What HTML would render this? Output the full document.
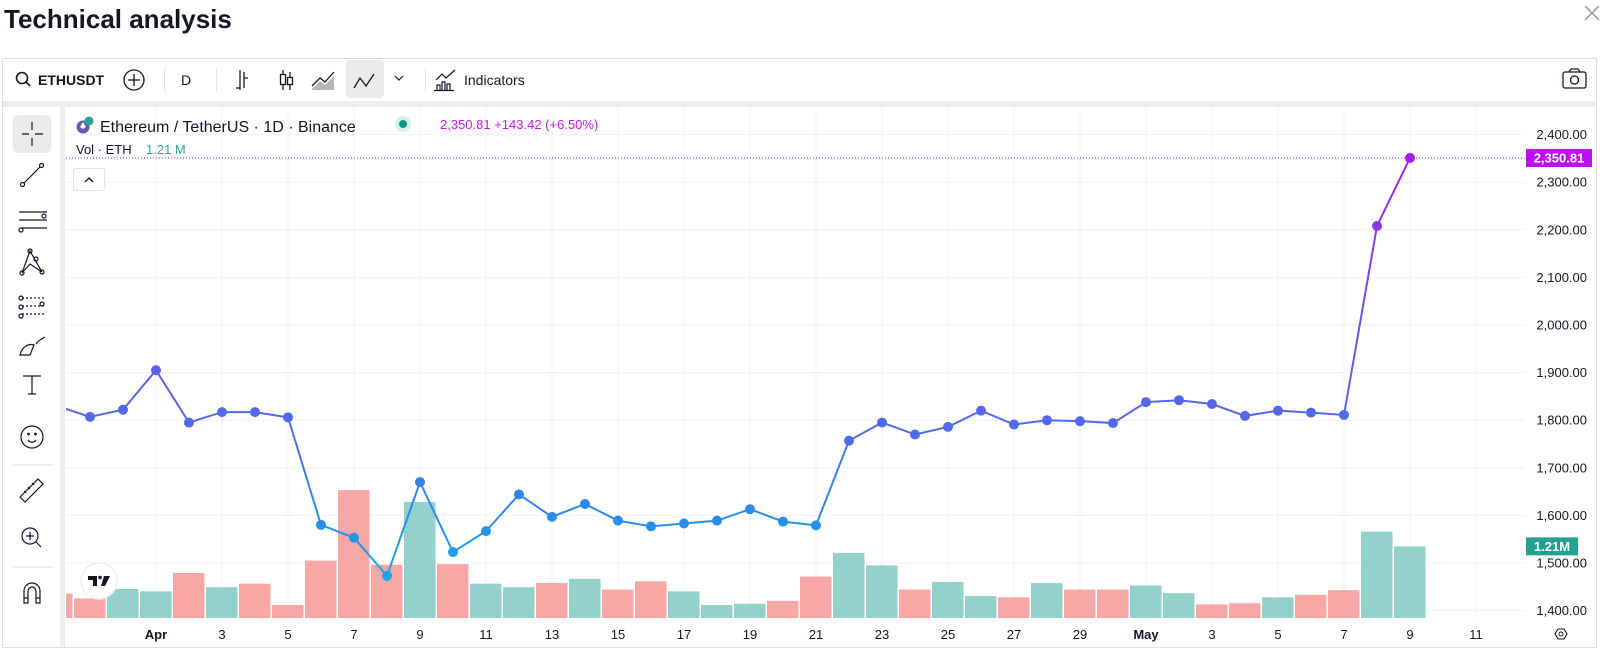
<!DOCTYPE html>
<html><head><meta charset="utf-8"><style>
html,body{margin:0;padding:0;background:#fff;width:1600px;height:667px;overflow:hidden;font-family:"Liberation Sans",sans-serif}
svg text{font-family:"Liberation Sans",sans-serif}
</style></head><body>
<svg id="chart" width="1600" height="667" viewBox="0 0 1600 667" xmlns="http://www.w3.org/2000/svg">
<defs>
<linearGradient id="lineGrad" gradientUnits="userSpaceOnUse" x1="0" y1="158" x2="0" y2="578">
<stop offset="0" stop-color="#a51ff2"/>
<stop offset="0.3" stop-color="#7a47ee"/>
<stop offset="0.62" stop-color="#5369e8"/>
<stop offset="0.86" stop-color="#2a8de9"/>
<stop offset="1" stop-color="#17a8e8"/>
</linearGradient>
</defs>
<text x="4" y="28" font-size="26" font-weight="bold" fill="#131722">Technical analysis</text>
<g stroke="#9aa3b5" stroke-width="1.6"><line x1="1585" y1="6" x2="1599" y2="20"/><line x1="1599" y1="6" x2="1585" y2="20"/></g>
<rect x="2.5" y="58.5" width="1594" height="589" fill="#fff" stroke="#dcdfe6"/>
<rect x="3" y="101" width="1593" height="6" fill="#eceef2"/>
<rect x="60" y="107" width="5" height="540" fill="#eceef2"/>
<g font-size="14" fill="#131722">
<g><circle cx="22" cy="78" r="5.5" fill="none" stroke="#131722" stroke-width="1.6"/><line x1="26" y1="82" x2="30" y2="86" stroke="#131722" stroke-width="1.6"/><text x="38" y="85" font-weight="bold" font-size="14">ETHUSDT</text></g>
<g><circle cx="134" cy="80" r="10" fill="none" stroke="#131722" stroke-width="1.3"/><line x1="128" y1="80" x2="140" y2="80" stroke="#131722" stroke-width="1.3"/><line x1="134" y1="74" x2="134" y2="86" stroke="#131722" stroke-width="1.3"/></g>
<line x1="164.5" y1="68" x2="164.5" y2="92" stroke="#e0e3eb"/>
<text x="181" y="85" font-size="14">D</text>
<line x1="216.5" y1="68" x2="216.5" y2="92" stroke="#e0e3eb"/>
<g stroke="#131722" stroke-width="1.3" fill="none"><path d="M240 70v20M236 88h4M244 72v16M244 78h4"/></g>
<g stroke="#131722" stroke-width="1.3" fill="none"><path d="M283 70v20M290 72v18"/><rect x="280.5" y="74.5" width="5" height="10" fill="#fff"/><rect x="287.5" y="77.5" width="5" height="7" fill="#fff"/></g>
<g stroke="#131722" stroke-width="1.3" fill="none"><path d="M312 86l8-8 5 4 9-10"/><path d="M312 90h22v-14l-9 9-5-4-8 8z" fill="#888" stroke="none" opacity="0.6"/></g>
<rect x="346" y="60" width="38" height="38" rx="4" fill="#ebebeb"/>
<path d="M354 88l6-10 6 8 8-12" stroke="#131722" stroke-width="1.3" fill="none"/>
<path d="M395 76l4 4 4-4" stroke="#131722" stroke-width="1.2" fill="none"/>
<line x1="425.5" y1="68" x2="425.5" y2="92" stroke="#e0e3eb"/>
<g><path d="M436 80l6-6 4 4 9-8M437 90v-5h3v5M442 90v-8h3v8M447 90v-6h3v6M434 90.5h20" stroke="#131722" stroke-width="1.2" fill="none"/><text x="464" y="85" font-size="14">Indicators</text></g>
<g stroke="#131722" stroke-width="1.3" fill="none"><rect x="1563" y="72" width="23" height="16" rx="2"/><circle cx="1574.5" cy="80" r="4"/><path d="M1569 72l2-3h7l2 3"/></g>
</g>
<g stroke="#131722" stroke-width="1.2" fill="none">
<rect x="13" y="115" width="38" height="38" rx="5" fill="#ebebeb" stroke="none"/>
<path d="M32 122v8M32 138v8M22 134h7M35 134h8"/>
<g><path d="M24 183l16-16"/><circle cx="22.5" cy="184.5" r="2"/><circle cx="41.5" cy="165.5" r="2"/></g>
<g><path d="M19 212h28M19 220h28M21 228h26"/><circle cx="44" cy="216" r="2"/><circle cx="21" cy="230" r="2"/></g>
<g><path d="M22 273l8-22 12 21-12-8-8 9"/><circle cx="22" cy="273" r="2"/><circle cx="30" cy="251" r="2"/><circle cx="42" cy="272" r="2"/><circle cx="36" cy="259" r="2"/></g>
<g><path d="M22 298h22M22 306h22M22 314h22" stroke-dasharray="2 2"/><circle cx="21" cy="298" r="2"/><circle cx="21" cy="307" r="2"/><circle cx="21" cy="316" r="2"/><circle cx="42" cy="304" r="2"/></g>
<g><path d="M20 355c2-8 8-12 14-10l-4 10z M36 344c2-3 5-5 9-7"/></g>
<g><path d="M23 376h18M32 376v18M28 394h8"/></g>
<g><circle cx="32" cy="437" r="11"/><circle cx="28.5" cy="434" r="0.8" fill="#131722"/><circle cx="35.5" cy="434" r="0.8" fill="#131722"/><path d="M28 440c2 3 6 3 8 0"/></g>
<line x1="12" y1="465" x2="53" y2="465" stroke="#e0e3eb"/>
<g><path d="M20 497l18-18 5 5-18 18z M24 491l2 2M28 487l2 2M32 483l2 2"/></g>
<g><circle cx="30" cy="536" r="8"/><path d="M36 542l5 5M26 536h8M30 532v8"/></g>
<line x1="12" y1="567" x2="53" y2="567" stroke="#e0e3eb"/>
<g><path d="M24 603v-12a8 8 0 0 1 16 0v12h-4v-12a4 4 0 0 0-8 0v12z M24 598h4M36 598h4"/></g>
</g>
<g id="grid"></g>
<g id="volumes"></g>
<line id="lastLine" x1="66" x2="1525" stroke="#b313f0" stroke-width="1" stroke-dasharray="1 2"/>
<g id="priceLine"></g>
<g id="yAxis" font-size="13" fill="#131722" text-anchor="end"></g>
<g id="xAxis" font-size="13" fill="#131722" text-anchor="middle"></g>
<g>
<circle cx="83" cy="127" r="6.5" fill="#5b5fb0"/><circle cx="89" cy="121" r="4.5" fill="#26a69a"/><path d="M83 122l-3 5 3 2 3-2z" fill="#fff"/>
<text x="100" y="132" font-size="16" fill="#131722">Ethereum / TetherUS · 1D · Binance</text>
<circle cx="403" cy="124" r="8" fill="#d8f0ec"/><circle cx="403" cy="124" r="4" fill="#089981"/>
<text x="440" y="129" font-size="13" fill="#c21ae6">2,350.81 +143.42 (+6.50%)</text>
<text x="76" y="154" font-size="13" fill="#131722">Vol · ETH</text>
<text x="146" y="154" font-size="13" fill="#22ab94">1.21 M</text>
<g><rect x="73.5" y="168.5" width="31" height="22" rx="2" fill="#fff" stroke="#e0e3eb"/><path d="M85 182l4-4 4 4" stroke="#131722" stroke-width="1.3" fill="none"/></g>
</g>
<g><circle cx="99" cy="581" r="18" fill="#fff" stroke="#eee" stroke-width="1.5"/><path d="M88 576h9v10h-4v-6h-5z" fill="#131722"/><circle cx="100" cy="577.5" r="1.8" fill="#131722"/><path d="M104 576h6l-5 10h-4z" fill="#131722"/></g>
<g><rect id="lastBox" x="1526" width="66" height="18" fill="#bb10f2"/><text id="lastTxt" x="1559" font-size="13" font-weight="bold" fill="#fff" text-anchor="middle">2,350.81</text></g>
<g><rect id="volBox" x="1526" width="52" height="18" fill="#22a092"/><text id="volTxt" x="1552" font-size="13" font-weight="bold" fill="#fff" text-anchor="middle">1.21M</text></g>
<g><path d="M1555 634l3-5h6l3 5-3 5h-6z" fill="none" stroke="#131722" stroke-width="1.1"/><circle cx="1561" cy="634" r="2" fill="none" stroke="#131722"/></g>
</svg>
<script>
// Day index 0 = Mar 29
const prices = [1830,1807,1822,1905,1795,1817,1817,1806,1580,1553,1473,1670,1523,1567,1644,1597,1624,1589,1577,1583,1589,1613,1587,1579,1757,1795,1770,1786,1820,1791,1800,1798,1794,1838,1842,1834,1809,1820,1816,1811,2208,2351];
const volumes = [0.41,0.33,0.49,0.45,0.76,0.52,0.58,0.22,0.97,2.16,0.90,1.96,0.91,0.58,0.52,0.59,0.66,0.48,0.62,0.45,0.22,0.24,0.29,0.70,1.10,0.89,0.48,0.61,0.37,0.35,0.59,0.48,0.48,0.55,0.42,0.23,0.25,0.35,0.39,0.47,1.46,1.21];
const volUp = [0,0,1,1,0,1,0,0,0,0,0,1,0,1,1,0,1,0,0,1,1,1,0,0,1,1,0,1,1,0,1,0,0,1,1,0,0,1,0,0,1,1];
const priceTicks = [1400,1500,1600,1700,1800,1900,2000,2100,2200,2300,2400];
const timeTickIdx = [3,5,7,9,11,13,15,17,19,21,23,25,27,29,31,33,35,37,39,41,43];
const timeTickLabels = ["Apr","3","5","7","9","11","13","15","17","19","21","23","25","27","29","May","3","5","7","9","11"];
const lastPrice = 2350.81;
const lastVolume = 1.21;

const NS="http://www.w3.org/2000/svg";
const X0=57, DX=33, PLOT_L=66, PLOT_R=1525, PLOT_T=107, BASE=618;
const xS=i=>X0+DX*i;
const yS=p=>134.6+(2400-p)*0.476;
const vS=v=>BASE-v*59.2;
function mk(tag,attrs,parent){const e=document.createElementNS(NS,tag);for(const k in attrs)e.setAttribute(k,attrs[k]);parent.appendChild(e);return e;}
const grid=document.getElementById('grid');
priceTicks.forEach(p=>{
  const l=mk('line',{x1:PLOT_L,x2:PLOT_R,y1:yS(p),y2:yS(p),stroke:'#f0f1f4'},grid);
  
  
});
timeTickIdx.forEach(i=>{
  const l=mk('line',{x1:xS(i),x2:xS(i),y1:PLOT_T,y2:BASE,stroke:'#f0f1f4'},grid);
  
  
});
const vg=document.getElementById('volumes');
volumes.forEach((v,i)=>{
  let x1=xS(i)-16, x2=xS(i)+15.5;
  if(x1<PLOT_L)x1=PLOT_L;
  const r=mk('rect',{x:x1,y:vS(v),width:x2-x1,height:BASE-vS(v),fill:volUp[i]?'#92d2ca':'#f6a7a6'},vg);
  
  
});
const pg=document.getElementById('priceLine');
const clip=mk('clipPath',{id:'plotClip'},document.querySelector('defs'));
mk('rect',{x:PLOT_L,y:PLOT_T,width:PLOT_R-PLOT_L,height:BASE-PLOT_T},clip);
pg.setAttribute('clip-path','url(#plotClip)');
const d=prices.map((p,i)=>(i?'L':'M')+xS(i)+' '+yS(p)).join(' ');
const path=mk('path',{d:d,fill:'none',stroke:'url(#lineGrad)','stroke-width':2},pg);


prices.forEach((p,i)=>{
  const c=mk('circle',{cx:xS(i),cy:yS(p),r:5,fill:'url(#lineGrad)'},pg);
  
  
});
const ya=document.getElementById('yAxis');
priceTicks.forEach(p=>{
  const t=mk('text',{x:1587,y:yS(p)+4.5},ya);
  t.textContent=p.toLocaleString('en-US',{minimumFractionDigits:2});
  
  
});
const xa=document.getElementById('xAxis');
timeTickIdx.forEach((i,k)=>{
  const lab=timeTickLabels[k];
  const t=mk('text',{x:xS(i),y:639,'font-weight':(lab==='Apr'||lab==='May')?'bold':'normal'},xa);
  t.textContent=lab;
  
  
});
const ly=yS(lastPrice);
const ll=document.getElementById('lastLine');ll.setAttribute('y1',ly);ll.setAttribute('y2',ly);
document.getElementById('lastBox').setAttribute('y',ly-9);
document.getElementById('lastTxt').setAttribute('y',ly+4.5);
const vy=vS(lastVolume);
document.getElementById('volBox').setAttribute('y',vy-9);
document.getElementById('volTxt').setAttribute('y',vy+4.5);
</script>
</body></html>
